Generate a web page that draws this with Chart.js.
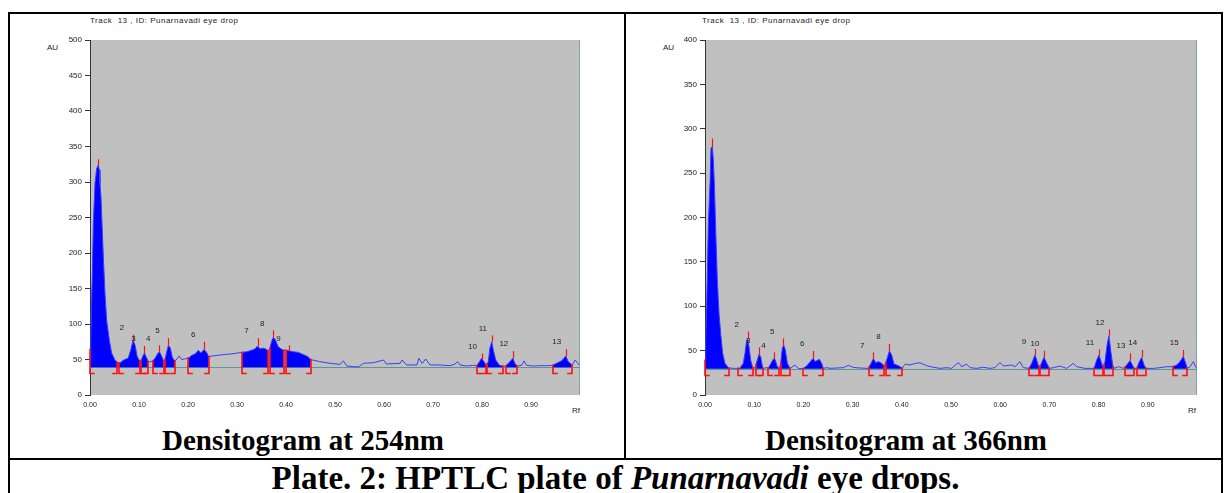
<!DOCTYPE html>
<html><head><meta charset="utf-8">
<script src="https://cdn.jsdelivr.net/npm/chart.js@4.4.0/dist/chart.umd.min.js"></script>
<style>
html,body{margin:0;padding:0;background:#fff;}
body{width:1231px;height:493px;overflow:hidden;position:relative;font-family:"Liberation Sans",Arial,sans-serif;}
.ln{position:absolute;background:#000;}
.t{position:absolute;white-space:nowrap;color:#222;font-size:8px;line-height:8px;}
.ttl{letter-spacing:0.5px;}
.cap{position:absolute;white-space:nowrap;font-family:"Liberation Serif","Times New Roman",serif;font-weight:bold;color:#000;line-height:1;}
canvas{position:absolute;}
</style></head><body>
<div class="ln" style="left:8px;top:12px;width:1215px;height:2px"></div>
<div class="ln" style="left:8px;top:12px;width:2px;height:481px"></div>
<div class="ln" style="left:1221px;top:12px;width:2px;height:481px"></div>
<div class="ln" style="left:624px;top:12px;width:2px;height:447px"></div>
<div class="ln" style="left:8px;top:458px;width:1215px;height:2px"></div>

<div class="t ttl" style="left:90px;top:17px;">Track&nbsp; 13 , ID: Punarnavadi eye drop</div>
<div class="t" style="left:47px;top:44px;">AU</div>
<div class="t" style="left:572px;top:407px;">Rf</div>
<div class="t ttl" style="left:702px;top:17px;">Track&nbsp; 13 , ID: Punarnavadi eye drop</div>
<div class="t" style="left:663px;top:44px;">AU</div>
<div class="t" style="left:1188px;top:407px;">Rf</div>

<canvas id="c254" width="614" height="410" style="left:10px;top:14px"></canvas>
<canvas id="c366" width="594" height="410" style="left:627px;top:14px"></canvas>

<div class="cap" style="left:10px;width:586px;text-align:center;top:426px;font-size:29px;">Densitogram at 254nm</div>
<div class="cap" style="left:626px;width:560px;text-align:center;top:426px;font-size:29px;">Densitogram at 366nm</div>
<div class="cap" style="left:10px;width:1211px;text-align:center;top:462px;font-size:33px;">Plate. 2: HPTLC plate of <i>Punarnavadi</i> eye drops.</div>

<script>
// ---------- data ----------
const rfTicks = [0, 0.1, 0.2, 0.3, 0.4, 0.5, 0.6, 0.7, 0.8, 0.9];
const auTicks254 = [0, 50, 100, 150, 200, 250, 300, 350, 400, 450, 500];
const auTicks366 = [0, 50, 100, 150, 200, 250, 300, 350, 400];

// Densitogram at 254 nm
const rf254 = [0.000,0.0015,0.0034,0.0048,0.0068,0.0102,0.0136,0.017,0.019,0.0204,0.0224,0.0245,0.0272,0.0306,0.034,0.0395,0.0442,0.051,0.058,
0.063,0.068,0.078,0.083,0.088,0.092,0.096,0.100,0.104,0.108,0.111,0.115,0.119,0.124,0.128,0.133,0.138,0.1415,0.146,0.150,0.153,0.157,0.160,0.164,0.168,0.173,
0.178,0.182,0.187,0.195,0.201,0.208,0.215,0.221,0.226,0.233,0.238,0.242,0.250,0.262,0.275,0.290,0.310,0.320,0.330,0.337,0.342,0.347,0.353,0.358,0.364,
0.367,0.371,0.374,0.378,0.384,0.390,0.395,0.401,0.407,0.415,0.425,0.435,0.445,0.450,0.469,0.490,0.510,0.517,0.524,0.537,0.548,0.558,0.578,0.599,0.605,
0.633,0.637,0.646,0.667,0.671,0.678,0.685,0.694,0.714,0.735,0.745,0.750,0.755,0.769,0.782,0.789,0.795,0.799,0.804,0.809,0.813,0.816,0.820,0.823,0.828,
0.835,0.842,0.848,0.857,0.863,0.867,0.872,0.881,0.886,0.891,0.905,0.918,0.932,0.944,0.952,0.963,0.971,0.976,0.984,0.990,0.994,0.998];
const au254 = [52,70,134,171,242,298,319,324,317,298,279,242,195,143,105,77,59,49,45,
46,49,52,63,77,70,55,49,48,55,59,53,47,47,48,52,58,61,55,48,50,62,70,66,53,48,
51,55,50,51,52,56,58,63,59,64,60,54,55,56,57,58,60,61,63,65,69,65,66,65,62,
66,76,81,78,68,65,63,63,62,61,60,57,54,50,47,44.6,43.2,48,41,39.9,39.5,44.6,45.5,49.3,43.7,
44.6,49.3,42.3,42.3,51.6,44.6,50.7,42.3,42.3,41.3,43.7,47,42.3,40.8,41.8,41.3,47,51.6,47,41.3,47,65.7,75.1,63.4,49.3,
42.3,40.8,40.8,47,51.6,44.6,40.8,41.8,48,41.8,40.8,41.3,41.3,41.8,44.6,48.4,55,47,42.3,49.3,46,42.3];
const base254 = 39;
const peakRf254    = [0.017,0.0878,0.111,0.1415,0.160,0.233,0.342,0.374,0.407,0.799,0.820,0.863,0.971];
const peakTop254   = [332,85,69,70,80,75,80,91,70,58.5,84,62,64.5];
const peakStart254 = [0.001,0.0585,0.104,0.128,0.153,0.201,0.310,0.367,0.401,0.789,0.811,0.848,0.944];
const peakEnd254   = [0.056,0.102,0.119,0.150,0.173,0.242,0.364,0.395,0.450,0.809,0.842,0.872,0.984];
const peakLabel254 = ["","2","3","4","5","6","7","8","9","10","11","12","13"];

// Densitogram at 366 nm
const rf366 = [0.000,0.0014,0.0034,0.0068,0.0102,0.0122,0.0149,0.0169,0.019,0.0224,0.025,0.0285,0.0318,0.0359,0.0406,0.0474,0.0495,0.060,0.0677,
0.0711,0.0779,0.0813,0.0847,0.0867,0.0894,0.0928,0.0969,0.1016,0.1064,0.1098,0.1132,0.1165,0.1186,0.1253,0.1287,0.1335,0.1389,0.1423,0.1470,0.1511,
0.1538,0.1572,0.1599,0.1633,0.1674,0.1728,0.1829,0.1897,0.1985,0.2066,0.2168,0.2202,0.2236,0.2270,0.2324,0.2371,0.2405,0.2473,0.2541,0.2676,0.2812,
0.2913,0.3015,0.3150,0.3320,0.3367,0.3421,0.3469,0.3523,0.3591,0.3645,0.3692,0.3747,0.3794,0.3841,0.3930,0.4011,0.407,0.4167,0.427,0.437,0.4506,
0.4641,0.4776,0.4912,0.5013,0.5149,0.5217,0.5318,0.5386,0.5522,0.5657,0.5793,0.5894,0.5996,0.6064,0.6233,0.6301,0.6402,0.6470,0.6585,0.6640,0.6707,
0.6741,0.6789,0.6823,0.6890,0.6931,0.6999,0.7079,0.7215,0.7351,0.7486,0.7554,0.7724,0.7907,0.7961,0.8008,0.8062,0.8096,0.8130,0.8177,0.8211,0.8245,
0.8286,0.8313,0.8401,0.8503,0.8571,0.8638,0.8686,0.8720,0.8774,0.8828,0.8875,0.8923,0.8963,0.9112,0.9248,0.9384,0.9506,0.9587,0.9654,0.9722,0.9770,
0.9804,0.9858,0.9925,0.9973,0.999];
const au366 = [39,60,99.5,193,238,278,280,265,238,175,130,92,69.5,47,35.7,30.8,30.3,30.0,30.0,
30.3,35.7,47,62,62.8,54.5,39.4,30.8,30.4,39.4,45.8,43.2,32.6,30.0,30.8,30.4,34.9,40.6,40.2,31.9,29.7,
35.7,52.6,56.3,50.7,35.7,30.0,33.8,29.7,29.7,32.6,39.4,41.3,37.6,38.7,40.2,35.7,30.0,30.8,30.1,30.4,30.8,
33.4,31.1,30.4,30.0,34.9,40.9,36.4,37.6,35.7,32.6,39.4,49.6,45.1,34.9,33.0,30.4,34.9,33.8,35.6,36.3,33.0,
31.2,30.0,30.8,30.0,36.7,31.9,34.8,30.8,30.0,31.2,30.0,30.8,36.7,32.6,33.8,31.9,37.5,30.8,30.0,35.6,45.1,
39.4,30.8,33.8,42.6,37.5,30.0,30.8,32.6,30.0,35.6,31.9,30.0,30.0,39.4,45.1,35.6,30.0,37.5,58.2,66.8,50.7,
33.8,30.0,31.9,30.0,33.8,38.7,33.8,30.0,30.0,37.5,42.6,33.8,30.0,30.0,30.8,31.9,31.9,33.8,37.5,43.4,35.6,
30.0,31.9,37.5,31.9,30.0];
const base366 = 29.5;
const peakRf366    = [0.0142,0.0867,0.1104,0.141,0.1592,0.2202,0.3421,0.3747,0.6707,0.6890,0.8008,0.8211,0.8638,0.8875,0.9722];
const peakTop366   = [289,71.4,53.7,48.1,63.8,49.6,48.1,57.5,51.8,50.0,51.4,73.9,47.0,50.7,50.7];
const peakStart366 = [0.0,0.0677,0.1037,0.1287,0.1538,0.1985,0.3333,0.3672,0.6585,0.6809,0.7907,0.8117,0.8537,0.8774,0.9510];
const peakEnd366   = [0.0495,0.0969,0.1186,0.1510,0.1728,0.2405,0.3645,0.4010,0.6789,0.6999,0.8096,0.8299,0.8720,0.8963,0.9804];
const peakLabel366 = ["","2","3","4","5","6","7","8","9","10","11","12","13","14","15"];

// ---------- drawing ----------
const FAM = '"Liberation Sans", Arial, sans-serif';

function curveAt(pts, v){
  for (let i = 1; i < pts.length; i++){
    if (pts[i].x >= v){
      const a = pts[i-1], b = pts[i];
      const t = (v - a.x) / ((b.x - a.x) || 1);
      return a.y + (b.y - a.y) * Math.max(0, Math.min(1, t));
    }
  }
  return pts[pts.length-1].y;
}

const densito = {
  id: 'densito',
  beforeDraw(chart){
    const {ctx, chartArea: a} = chart;
    ctx.save();
    ctx.fillStyle = '#c0c0c0';
    ctx.fillRect(a.left, a.top, a.right - a.left, a.bottom - a.top);
    ctx.strokeStyle = '#7fa3a3';
    ctx.lineWidth = 1;
    ctx.beginPath(); ctx.moveTo(Math.round(a.right) - 0.5, a.top); ctx.lineTo(Math.round(a.right) - 0.5, a.bottom); ctx.stroke();
    ctx.restore();
  },
  beforeDatasetsDraw(chart, args, o){
    const {ctx, chartArea: a, scales: {x, y}} = chart;
    const pts = chart.data.datasets[0].data;
    const yb = y.getPixelForValue(o.base);
    ctx.save();
    ctx.strokeStyle = '#5f9595';
    ctx.lineWidth = 1;
    ctx.beginPath();
    ctx.moveTo(a.left, Math.round(yb) + 0.5);
    ctx.lineTo(a.right, Math.round(yb) + 0.5);
    ctx.stroke();
    ctx.fillStyle = '#0000ff';
    o.starts.forEach((s, i) => {
      const xs = x.getPixelForValue(s), xe = x.getPixelForValue(o.ends[i]);
      ctx.save();
      ctx.beginPath();
      ctx.rect(xs, a.top, xe - xs, a.bottom - a.top);
      ctx.clip();
      ctx.beginPath();
      ctx.moveTo(x.getPixelForValue(pts[0].x), yb);
      pts.forEach(p => ctx.lineTo(x.getPixelForValue(p.x), y.getPixelForValue(p.y)));
      ctx.lineTo(x.getPixelForValue(pts[pts.length-1].x), yb);
      ctx.closePath();
      ctx.fill();
      ctx.restore();
    });
    ctx.restore();
  },
  afterDatasetsDraw(chart, args, o){
    const {ctx, scales: {x, y}} = chart;
    const pts = chart.data.datasets[0].data;
    const yb = Math.round(y.getPixelForValue(o.base)) + 0.5;
    const ybot = yb + 6;
    ctx.save();
    ctx.strokeStyle = '#ff1010';
    ctx.lineWidth = 1.6;
    ctx.lineCap = 'square';
    const bracket = (v, dir) => {
      const px = Math.round(x.getPixelForValue(v));
      const top = Math.min(yb, y.getPixelForValue(curveAt(pts, v)));
      ctx.beginPath();
      ctx.moveTo(px, top);
      ctx.lineTo(px, ybot);
      ctx.lineTo(px + dir * 4, ybot);
      ctx.stroke();
    };
    o.starts.forEach(s => bracket(s, 1));
    o.ends.forEach(e => bracket(e, -1));
    // peak maximum marks
    ctx.lineWidth = 1.2;
    ctx.lineCap = 'butt';
    o.peaks.forEach((p, i) => {
      const px = Math.round(x.getPixelForValue(p)) + 0.5;
      const yt = y.getPixelForValue(o.tops[i]);
      const yv = Math.max(y.getPixelForValue(curveAt(pts, p)), yt + 6);
      ctx.beginPath(); ctx.moveTo(px, yt); ctx.lineTo(px, yv); ctx.stroke();
    });
    // peak numbers
    ctx.fillStyle = '#222';
    ctx.font = '8px ' + FAM;
    ctx.textAlign = 'center';
    ctx.textBaseline = 'middle';
    o.peaks.forEach((p, i) => {
      const lab = o.labels[i];
      if (!lab) return;
      const px = x.getPixelForValue(p) - (lab.length > 1 ? 9 : 11);
      ctx.fillText(lab, px, y.getPixelForValue(o.tops[i]) - 7);
    });
    ctx.restore();
  }
};

function makeChart(id, rf, au, yMax, yTicks, yWidth, padRight, opts){
  const pts = rf.map((v, i) => ({x: v, y: au[i]}));
  return new Chart(document.getElementById(id), {
    type: 'line',
    data: {datasets: [{data: pts, borderColor: '#3b3bff', borderWidth: 1, pointRadius: 0, tension: 0, fill: false}]},
    plugins: [densito],
    options: {
      responsive: false, animation: false, devicePixelRatio: 1,
      layout: {padding: {top: 26, right: padRight, left: 0, bottom: 0}},
      plugins: {legend: {display: false}, tooltip: {enabled: false}, densito: opts},
      scales: {
        x: {
          type: 'linear', min: 0, max: 1,
          afterBuildTicks: s => { s.ticks = rfTicks.map(v => ({value: v})); },
          afterFit: s => { s.height = 29; },
          ticks: {callback: v => Number(v).toFixed(2), font: {size: 7, family: FAM}, color: '#222', padding: 6, maxRotation: 0, autoSkip: false},
          grid: {display: false, drawTicks: false},
          border: {display: false}
        },
        y: {
          type: 'linear', min: 0, max: yMax,
          afterBuildTicks: s => { s.ticks = yTicks.map(v => ({value: v})); },
          afterFit: s => { s.width = yWidth; },
          ticks: {font: {size: 8, family: FAM}, color: '#222', padding: 3},
          grid: {drawOnChartArea: false, drawTicks: true, tickLength: 5, color: '#333'},
          border: {display: true, color: '#333', width: 1}
        }
      }
    }
  });
}

makeChart('c254', rf254, au254, 500, auTicks254, 80, 44,
  {base: base254, starts: peakStart254, ends: peakEnd254, peaks: peakRf254, tops: peakTop254, labels: peakLabel254});
makeChart('c366', rf366, au366, 400, auTicks366, 78, 24,
  {base: base366, starts: peakStart366, ends: peakEnd366, peaks: peakRf366, tops: peakTop366, labels: peakLabel366});
</script>
</body></html>
